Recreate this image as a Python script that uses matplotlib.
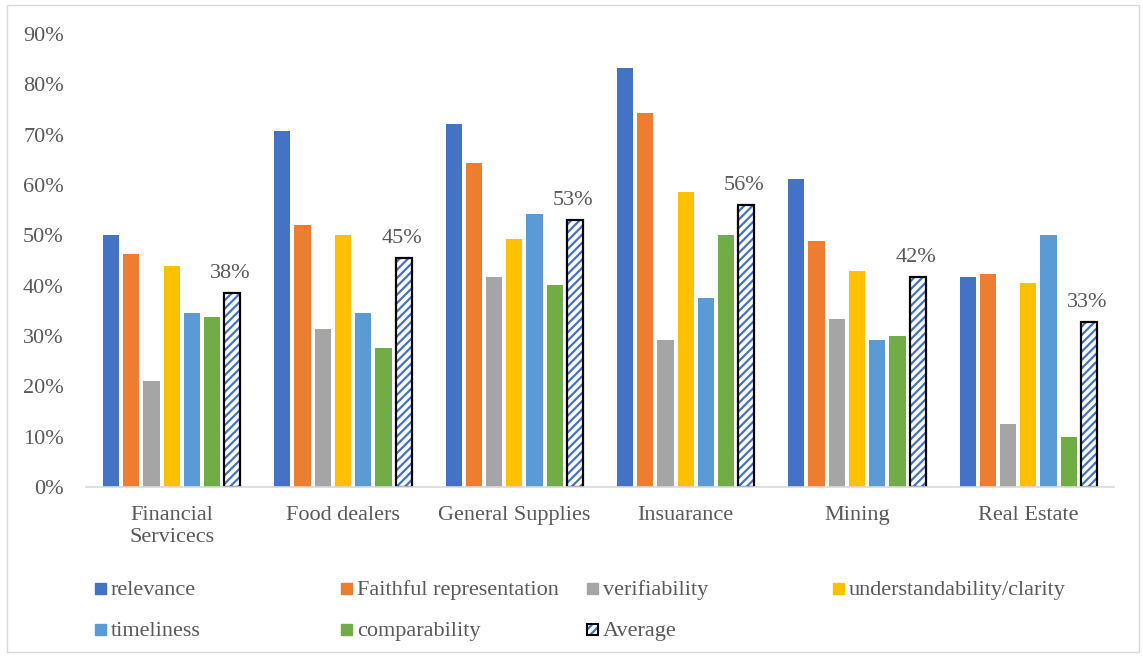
import numpy as np
import matplotlib.pyplot as plt
from matplotlib.patches import Rectangle

plt.rcParams['font.family'] = ['Liberation Serif', 'DejaVu Serif']

categories = ['Financial\nServicecs', 'Food dealers', 'General Supplies',
              'Insuarance', 'Mining', 'Real Estate']
relevance = [0.500, 0.708, 0.722, 0.833, 0.611, 0.417]
faithful = [0.462, 0.520, 0.643, 0.744, 0.488, 0.423]
verifiability = [0.211, 0.313, 0.417, 0.292, 0.333, 0.125]
understandability = [0.440, 0.500, 0.492, 0.587, 0.429, 0.405]
timeliness = [0.345, 0.345, 0.542, 0.375, 0.292, 0.500]
comparability = [0.338, 0.276, 0.401, 0.500, 0.300, 0.100]
average = [0.385, 0.454, 0.530, 0.560, 0.417, 0.327]

series = [
    ('relevance', relevance, '#4472C4'),
    ('Faithful representation', faithful, '#ED7D31'),
    ('verifiability', verifiability, '#A5A5A5'),
    ('understandability/clarity', understandability, '#FFC000'),
    ('timeliness', timeliness, '#5B9BD5'),
    ('comparability', comparability, '#70AD47'),
]

txt = '#595959'
fig = plt.figure(figsize=(11.43, 6.56), dpi=100)
ax = fig.add_axes([86 / 1143, 1 - 487 / 656, 1028 / 1143, 453 / 656])

x = np.arange(len(categories))
slot = 0.118
bw = 0.095
plt.rcParams['hatch.linewidth'] = 1.6

for i, (name, vals, col) in enumerate(series):
    ax.bar(x + (i - 3) * slot, vals, bw, color=col, edgecolor='none')

# average bar: hatched white with black frame
xa = x + 3 * slot
ax.bar(xa, average, bw, color='white', edgecolor='#4472C4', hatch='////', linewidth=0)
ax.bar(xa, average, bw, color='none', edgecolor='black', linewidth=1.6)
for xi, v in zip(xa, average):
    ax.text(xi - 0.012, v + 0.02, f'{v * 100:.0f}%', ha='center', va='bottom',
            fontsize=16, color=txt)

ax.set_xlim(-0.5, len(categories) - 0.5)
ax.set_ylim(0, 0.9)
ax.set_yticks(np.arange(0, 0.91, 0.1))
ax.set_yticklabels([f'{int(round(t * 100))}%' for t in np.arange(0, 0.91, 0.1)])
ax.set_xticks(x)
ax.set_xticklabels(categories)
ax.tick_params(axis='y', length=0, pad=16, labelsize=16, labelcolor=txt)
ax.tick_params(axis='x', length=0, pad=14, labelsize=16, labelcolor=txt)
for s in ['top', 'right', 'left']:
    ax.spines[s].set_visible(False)
ax.spines['bottom'].set_color('#D9D9D9')
ax.spines['bottom'].set_linewidth(1.2)

# legend laid out like the original (uneven columns)
W, H = 1143, 656
legend_items = [
    ('relevance', '#4472C4', 95, 588),
    ('Faithful representation', '#ED7D31', 341, 588),
    ('verifiability', '#A5A5A5', 587, 588),
    ('understandability/clarity', '#FFC000', 833, 588),
    ('timeliness', '#5B9BD5', 95, 629),
    ('comparability', '#70AD47', 341, 629),
]
for name, col, px, py in legend_items:
    fig.patches.append(Rectangle((px / W, 1 - (py + 6) / H), 11 / W, 11 / H,
                                 transform=fig.transFigure, color=col))
    fig.text((px + 16) / W, 1 - (py + 7) / H, name, fontsize=16, color=txt,
             va='baseline')

px, py = 587, 629
fig.patches.append(Rectangle((px / W, 1 - (py + 6) / H), 11 / W, 11 / H,
                             transform=fig.transFigure, facecolor='white',
                             edgecolor='#4472C4', hatch='////', linewidth=0))
fig.patches.append(Rectangle((px / W, 1 - (py + 6) / H), 11 / W, 11 / H,
                             transform=fig.transFigure, facecolor='none',
                             edgecolor='black', linewidth=1.5))
fig.text((px + 16) / W, 1 - (py + 7) / H, 'Average', fontsize=16, color=txt,
         va='baseline')

# chart border
fig.patches.append(Rectangle((7 / W, 1 - 652 / H), 1132 / W, 647 / H,
                             transform=fig.transFigure, facecolor='none',
                             edgecolor='#D9D9D9', linewidth=1))

fig.savefig('out.png', dpi=100)
